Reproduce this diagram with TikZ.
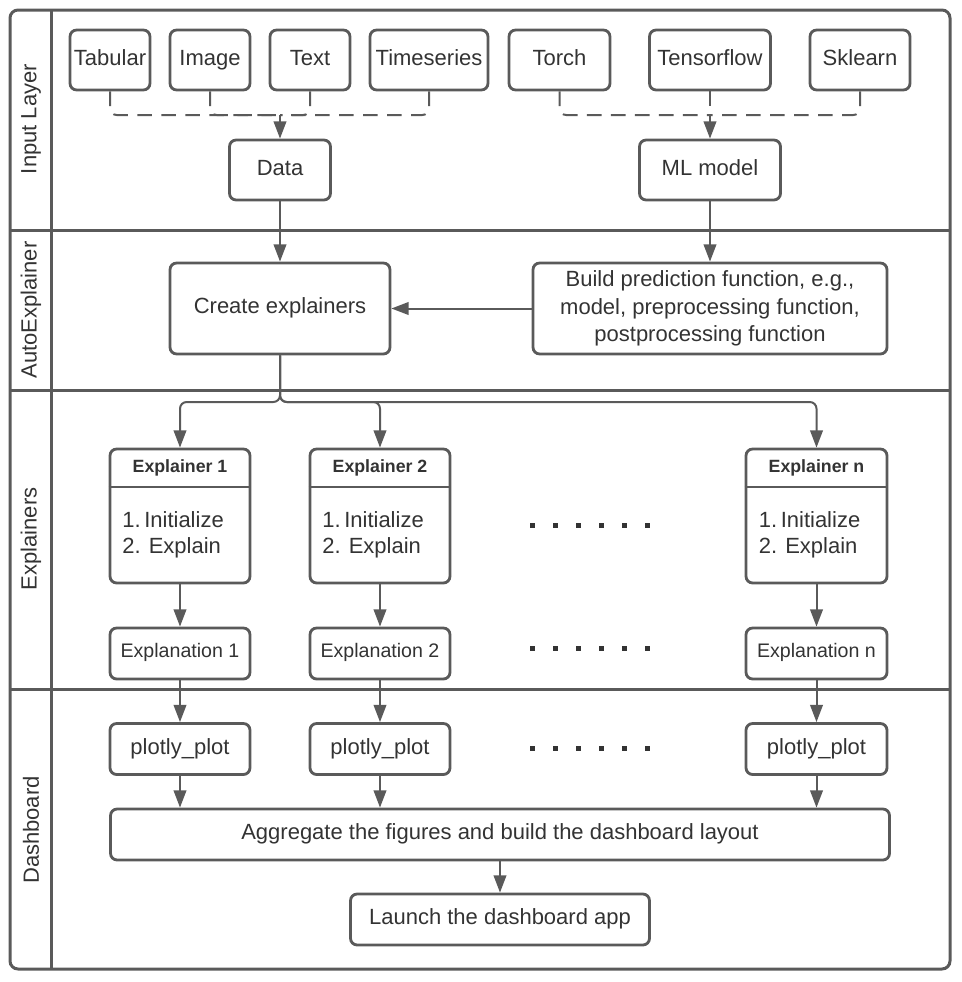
\documentclass[tikz,border=0pt]{standalone}
\usepackage{fontspec}
\setmainfont{Liberation Sans}
\usetikzlibrary{arrows.meta,calc}
\definecolor{ln}{HTML}{5A5A5A}
\definecolor{tx}{HTML}{333333}
\begin{document}
\begin{tikzpicture}[x=0.75pt,y=-0.75pt,
  box/.style={draw=ln, line width=2.1pt, rounded corners=5pt, inner sep=0pt, text=tx,
    font=\fontsize{16.5}{19.8}\selectfont, minimum height=45pt, align=center},
  one/.style={text height=12pt, text depth=4.5pt},
  frame/.style={draw=ln, line width=2.25pt},
  conn/.style={draw=ln, line width=1.5pt},
  arr/.style={conn, -{Triangle[length=13pt,width=9.5pt]}},
  arrc/.style={arr, rounded corners=5pt},
  dsh/.style={conn, dash pattern=on 11pt off 7pt, rounded corners=5pt},
  lane/.style={rotate=90, text=tx, font=\fontsize{16.5}{19.8}\selectfont},
  hdr/.style={text=tx, font=\fontsize{13.3}{16}\selectfont\bfseries},
  body/.style={text=tx, font=\fontsize{16.5}{19.5}\selectfont, align=left, anchor=west, inner sep=0pt},
  sqr/.style={fill=tx},
]
\useasboundingbox (0,0) rectangle (962,982);

% frame and lanes
\draw[frame, rounded corners=6pt] (10,10) rectangle (950,969);
\draw[frame] (10,230) -- (950,230);
\draw[frame] (10,390) -- (950,390);
\draw[frame] (10,689) -- (950,689);
\draw[frame] (51,10) -- (51,969);
\node[lane] (l1) at (31,119) {Input Layer};
\node[lane] (l2) at (31,310) {AutoExplainer};
\node[lane] (l3) at (31,539) {Explainers};
\node[lane] (l4) at (31,830) {Dashboard};

% input layer
\node[box, one, minimum width=60pt] (tab) at (110,60) {Tabular};
\node[box, one, minimum width=60pt] (img) at (210,60) {Image};
\node[box, one, minimum width=60pt] (txt) at (310,60) {Text};
\node[box, one, minimum width=88.5pt] (ts) at (429,60) {Timeseries};
\node[box, one, minimum width=75.75pt] (torch) at (559.5,60) {Torch};
\node[box, one, minimum width=90.75pt] (tf) at (710,60) {Tensorflow};
\node[box, one, minimum width=75pt] (sk) at (860,60) {Sklearn};
\node[box, one, minimum width=75.75pt] (data) at (280,170) {Data};
\node[box, one, minimum width=105.75pt] (ml) at (710,170) {ML model};
\coordinate (dj) at (280,115);
\coordinate (mj) at (710,115);
\draw[dsh] (tab.south) |- (dj);
\draw[dsh] (img.south) |- (dj);
\draw[dsh] (txt.south) |- (dj);
\draw[dsh] (ts.south) |- (dj);
\draw[arr] (dj) -- (data.north);
\draw[dsh] (torch.south) |- (mj);
\draw[dsh] (sk.south) |- (mj);
\draw[dsh] (tf.south) -- (mj);
\draw[arr] (mj) -- (ml.north);

% autoexplainer
\node[box, one, minimum width=165pt, minimum height=68.25pt] (ce) at (280,308.5) {Create explainers};
\node[box, minimum width=265.5pt, minimum height=68.25pt, font=\fontsize{16.5}{20.6}\selectfont] (bp) at (710,308.5)
  {Build prediction function, e.g.,\\model, preprocessing function,\\postprocessing function};
\draw[arr] (data) -- (ce);
\draw[arr] (ml) -- (bp);
\draw[arr] (bp) -- (ce);

% explainers
\node[box, minimum width=105pt, minimum height=100.5pt] (e1) at (180,516) {};
\node[box, minimum width=105pt, minimum height=100.5pt] (e2) at (380,516) {};
\node[box, minimum width=105.75pt, minimum height=100.5pt] (en) at (816.5,516) {};
\coordinate (hs) at (0,487);
\draw[draw=ln, line width=2.1pt] (e1.west |- hs) -- (e1.east |- hs);
\draw[draw=ln, line width=2.1pt] (e2.west |- hs) -- (e2.east |- hs);
\draw[draw=ln, line width=2.1pt] (en.west |- hs) -- (en.east |- hs);
\node[hdr] (h1) at (180,468) {Explainer 1};
\node[hdr] (h2) at (380,468) {Explainer 2};
\node[hdr] (hn) at (816.5,468) {Explainer n};
\node[body] (b1) at (122,535) {1.\,Initialize\\2. Explain};
\node[body] (b2) at (322,535) {1.\,Initialize\\2. Explain};
\node[body] (bn) at (758.5,535) {1.\,Initialize\\2. Explain};

\coordinate (br) at (280,402);
\draw[arrc] (ce.south) |- (e1.north |- br) -- (e1.north);
\draw[arrc] (ce.south) |- (e2.north |- br) -- (e2.north);
\draw[arrc] (ce.south) |- (en.north |- br) -- (en.north);

\node[box, minimum width=105pt, minimum height=38.25pt, font=\fontsize{14.7}{17}\selectfont, text height=10.7pt, text depth=4pt] (x1) at (180,653.5) {Explanation 1};
\node[box, minimum width=105pt, minimum height=38.25pt, font=\fontsize{14.7}{17}\selectfont, text height=10.7pt, text depth=4pt] (x2) at (380,653.5) {Explanation 2};
\node[box, minimum width=105.75pt, minimum height=38.25pt, font=\fontsize{14.7}{17}\selectfont, text height=10.7pt, text depth=4pt] (xn) at (816.5,653.5) {Explanation n};
\draw[arr] (e1) -- (x1);
\draw[arr] (e2) -- (x2);
\draw[arr] (en) -- (xn);

% dashboard
\node[box, one, minimum width=105pt, minimum height=38.25pt] (p1) at (180,749) {plotly\_plot};
\node[box, one, minimum width=105pt, minimum height=38.25pt] (p2) at (380,749) {plotly\_plot};
\node[box, one, minimum width=105.75pt, minimum height=38.25pt] (pn) at (816.5,749) {plotly\_plot};
\draw[arr] (x1) -- (p1);
\draw[arr] (x2) -- (p2);
\draw[arr] (xn) -- (pn);
\node[box, one, minimum width=584.25pt, minimum height=38.25pt] (agg) at (500,834.5) {Aggregate the figures and build the dashboard layout};
\node[box, one, minimum width=224.25pt, minimum height=38.25pt] (lau) at (500,919.5) {Launch the dashboard app};
\draw[arr] (p1) -- (p1 |- agg.north);
\draw[arr] (p2) -- (p2 |- agg.north);
\draw[arr] (pn) -- (pn |- agg.north);
\draw[arr] (agg) -- (lau);

% ellipsis squares
\foreach \yy in {525,648,748}{
  \foreach \i in {0,...,5}{
    \fill[sqr] ({532+23*\i-2.5},{\yy-2.5}) rectangle ++(5,5);
  }
}
\end{tikzpicture}
\end{document}
